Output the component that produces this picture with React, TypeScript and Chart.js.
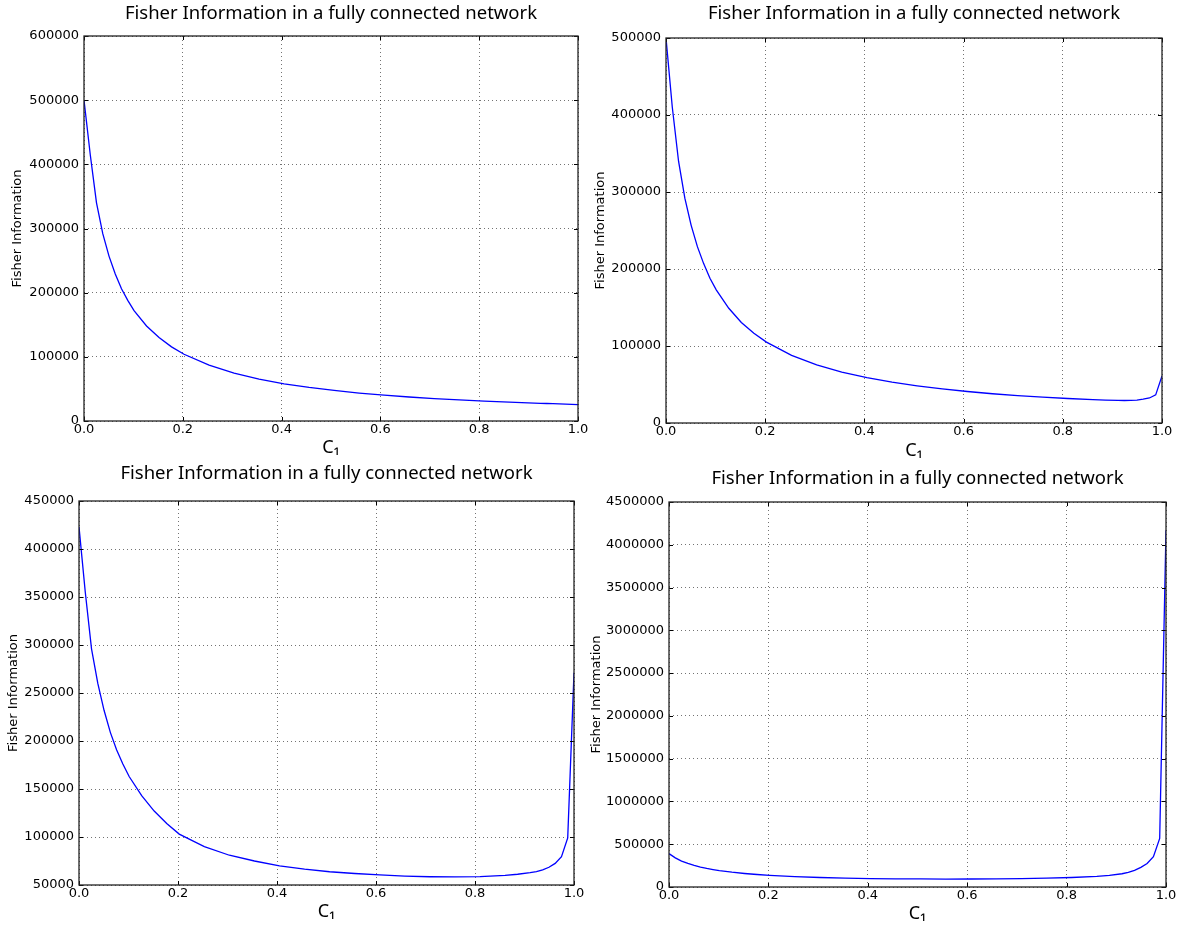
import React, { useEffect, useRef } from "react";
import { Chart, registerables } from "chart.js";

Chart.register(...registerables);

// ---- data ----
const C1 = [
  0, 0.0127, 0.0253, 0.038, 0.0506, 0.0633, 0.0759, 0.0886, 0.1013, 0.1266, 0.1519, 0.1772,
  0.2025, 0.2532, 0.3038, 0.3544, 0.4051, 0.4557, 0.5063, 0.557, 0.6076, 0.6582, 0.7089,
  0.7595, 0.8101, 0.8608, 0.8861, 0.9114, 0.9241, 0.9367, 0.9494, 0.962, 0.9747, 0.9873, 1.0,
];

const fisherTopLeft = [
  500000, 415000, 340000, 292000, 257000, 229000, 206000, 188000, 172000, 148000, 130000, 115500,
  104000, 87000, 74500, 65300, 58000, 52300, 47600, 43600, 40300, 37400, 35000,
  32800, 31000, 29300, 28600, 27900, 27600, 27300, 27000, 26600, 26300, 26000, 25500,
];

const fisherTopRight = [
  500000, 410000, 340000, 292000, 257000, 229000, 207000, 188000, 173000, 149000, 130500, 116500,
  105000, 87800, 75500, 66200, 58800, 53000, 48300, 44300, 40900, 38000, 35500,
  33500, 31800, 30300, 29700, 29300, 29200, 29300, 29800, 31000, 32500, 36500, 61000,
];

const fisherBottomLeft = [
  423000, 355000, 296000, 260000, 232000, 209000, 191000, 176000, 163000, 143000, 127000, 114000,
  103000, 90000, 81000, 75000, 70000, 66500, 63800, 62000, 60500, 59300, 58600,
  58400, 58800, 60000, 61200, 62800, 64000, 65800, 68500, 72500, 79500, 99000, 271000,
];

const fisherBottomRight = [
  390000, 340000, 303000, 275000, 252000, 233000, 217000, 204000, 192000, 173000, 158000, 146000,
  136000, 121000, 111000, 104000, 99000, 96000, 94000, 93000, 93500, 95000, 98000,
  103000, 111000, 125000, 137000, 155000, 172000, 195000, 230000, 274000, 355000, 567000, 4170000,
];

// y axis ranges [min, max, step]
const yRangeTopLeft = [0, 600000, 100000];
const yRangeTopRight = [0, 500000, 100000];
const yRangeBottomLeft = [50000, 450000, 50000];
const yRangeBottomRight = [0, 4500000, 500000];
const xRange = [0, 1, 0.2];

const TITLE = "Fisher Information in a fully connected network";
const Y_LABEL = "Fisher Information";
const X_LABEL = "C\u2081";

// ---- layout (pixel geometry of each panel) ----
type Geo = {
  cx: number; cy: number; L: number; T: number; R: number; B: number;
  titleY: number; yTitleX: number; xTitleY: number;
};

const PANELS: { values: number[]; yRange: number[]; geo: Geo }[] = [
  { values: fisherTopLeft, yRange: yRangeTopLeft,
    geo: { cx: 0, cy: 0, L: 84, T: 36, R: 578, B: 421, titleY: 14, yTitleX: 18, xTitleY: 448 } },
  { values: fisherTopRight, yRange: yRangeTopRight,
    geo: { cx: 590, cy: 0, L: 666, T: 38, R: 1162, B: 423, titleY: 14, yTitleX: 601, xTitleY: 451 } },
  { values: fisherBottomLeft, yRange: yRangeBottomLeft,
    geo: { cx: 0, cy: 460, L: 79, T: 501, R: 574, B: 885, titleY: 474, yTitleX: 14, xTitleY: 912 } },
  { values: fisherBottomRight, yRange: yRangeBottomRight,
    geo: { cx: 590, cy: 460, L: 669, T: 502, R: 1166, B: 887, titleY: 479, yTitleX: 597, xTitleY: 914 } },
];

const TITLE_FONT = { family: "'Noto Sans', sans-serif", size: 18.5, weight: "normal", lineHeight: 1.2 };
const XT_FONT = { family: "'Noto Sans', sans-serif", size: 18, weight: "normal", lineHeight: 1.2 };
const YT_FONT = { family: "'DejaVu Sans', sans-serif", size: 13, weight: "normal", lineHeight: 1.2 };
const TICK_FONT = { family: "'DejaVu Sans', sans-serif", size: 13, lineHeight: 1.2 };
const X_AXIS_H = 40;

const framePlugin = {
  id: "mplFrame",
  afterDraw(chart: any) {
    const { ctx, chartArea: a, scales } = chart;
    const xs = scales.x;
    const ys = scales.y;
    ctx.save();
    ctx.strokeStyle = "#000";
    ctx.lineWidth = 1;
    ctx.beginPath();
    xs.ticks.forEach((t: any) => {
      const p = Math.round(xs.getPixelForValue(t.value)) + 0.5;
      ctx.moveTo(p, a.bottom);
      ctx.lineTo(p, a.bottom - 4);
      ctx.moveTo(p, a.top);
      ctx.lineTo(p, a.top + 4);
    });
    ys.ticks.forEach((t: any) => {
      const p = Math.round(ys.getPixelForValue(t.value)) + 0.5;
      ctx.moveTo(a.left, p);
      ctx.lineTo(a.left + 4, p);
      ctx.moveTo(a.right, p);
      ctx.lineTo(a.right - 4, p);
    });
    ctx.stroke();
    ctx.lineWidth = 1.3;
    ctx.strokeStyle = "#222";
    ctx.strokeRect(a.left, a.top, a.right - a.left, a.bottom - a.top);
    ctx.restore();
  },
};

function dims(g: Geo) {
  const cw = Math.round(2 * ((g.L + g.R) / 2 - g.cx));
  const ch = g.B - g.cy + X_AXIS_H;
  return { cw, ch };
}

function Panel({ values, yRange, geo }: { values: number[]; yRange: number[]; geo: Geo }) {
  const ref = useRef<HTMLCanvasElement | null>(null);
  const { cw, ch } = dims(geo);

  useEffect(() => {
    const canvas = ref.current;
    if (!canvas) return;
    const tlh = TITLE_FONT.size * TITLE_FONT.lineHeight;
    const titleTop = geo.titleY - geo.cy - tlh / 2;
    const titleBottom = geo.T - geo.cy - titleTop - tlh;
    const ylh = YT_FONT.size * YT_FONT.lineHeight;
    const xlh = XT_FONT.size * XT_FONT.lineHeight;
    const leftW = geo.L - geo.cx;
    const rightW = cw - (geo.R - geo.cx);

    const gridCommon = {
      display: true,
      color: "rgba(0,0,0,0.55)",
      lineWidth: 1,
      drawTicks: false,
    };

    const chart = new Chart(canvas, {
      type: "line",
      data: {
        datasets: [
          {
            data: C1.map((x, i) => ({ x, y: values[i] })),
            borderColor: "#0000ff",
            borderWidth: 1.3,
            pointRadius: 0,
            tension: 0,
            fill: false,
          },
        ],
      },
      options: {
        animation: false,
        responsive: false,
        events: [],
        layout: { padding: 0 },
        plugins: {
          legend: { display: false },
          tooltip: { enabled: false },
          title: {
            display: true,
            text: TITLE,
            color: "#000",
            font: TITLE_FONT as any,
            padding: { top: titleTop, bottom: titleBottom },
          },
        },
        scales: {
          x: {
            type: "linear",
            position: "bottom",
            min: xRange[0],
            max: xRange[1],
            afterFit: (s: any) => { s.height = X_AXIS_H; },
            ticks: {
              stepSize: xRange[2],
              autoSkip: false,
              maxRotation: 0,
              padding: 1,
              color: "#000",
              font: TICK_FONT as any,
              callback: (v: any) => Number(v).toFixed(1),
            },
            grid: gridCommon,
            border: { display: false, dash: [1, 3] },
            title: {
              display: true,
              text: X_LABEL,
              color: "#000",
              font: XT_FONT as any,
              padding: { top: 0, bottom: ch - (geo.xTitleY - geo.cy) - xlh / 2 },
            },
          },
          y: {
            type: "linear",
            position: "left",
            min: yRange[0],
            max: yRange[1],
            afterFit: (s: any) => { s.width = leftW; },
            ticks: {
              stepSize: yRange[2],
              autoSkip: false,
              padding: 5,
              color: "#000",
              font: TICK_FONT as any,
              callback: (v: any) => String(Math.round(Number(v))),
            },
            grid: gridCommon,
            border: { display: false, dash: [1, 3] },
            title: {
              display: true,
              text: Y_LABEL,
              color: "#000",
              font: YT_FONT as any,
              padding: { top: geo.yTitleX - geo.cx - ylh / 2, bottom: 0 },
            },
          },
          y2: {
            type: "linear",
            position: "right",
            display: true,
            afterFit: (s: any) => { s.width = rightW; },
            ticks: { display: false },
            grid: { display: false },
            border: { display: false },
          },
        },
      },
      plugins: [framePlugin],
    } as any);
    return () => chart.destroy();
  }, []);

  return (
    <canvas
      ref={ref}
      width={cw}
      height={ch}
      style={{ position: "absolute", left: geo.cx, top: geo.cy, width: cw, height: ch, display: "block" }}
    />
  );
}

export default function App() {
  return (
    <div
      style={{
        position: "absolute",
        left: 0,
        top: 0,
        width: 1182,
        height: 930,
        overflow: "hidden",
        background: "#fff",
      }}
    >
      {PANELS.map((p, i) => (
        <Panel key={i} values={p.values} yRange={p.yRange} geo={p.geo} />
      ))}
    </div>
  );
}
